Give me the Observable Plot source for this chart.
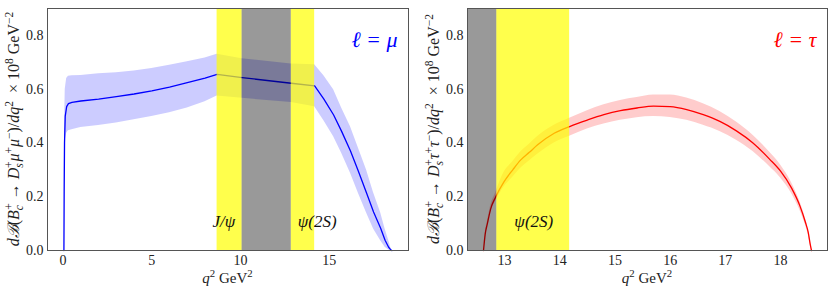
<!DOCTYPE html>
<html><head><meta charset="utf-8">
<script src="https://cdn.jsdelivr.net/npm/d3@7"></script>
<script src="https://cdn.jsdelivr.net/npm/@observablehq/plot@0.6"></script>
<style>
body{margin:0;background:#fff;}
#wrap{display:flex;width:830px;height:287px;overflow:hidden;}
#wrap svg{display:block;}
#wrap svg, #wrap svg text{font-family:"Liberation Serif","DejaVu Serif",serif !important;}
</style></head><body><div id="wrap"></div>
<script>
// ---------- data ----------
const muQ2      = [0.045,0.06,0.08,0.12,0.2,0.3,0.5,1.0,2.0,3.0,4.0,5.0,6.0,7.0,8.0,8.68,10.09,12.86,14.18,14.7,15.25,15.7,16.2,16.65,17.1,17.5,17.9,18.15,18.35,18.45,18.53];
const muCentral = [0,0.22,0.40,0.50,0.535,0.546,0.551,0.556,0.563,0.572,0.582,0.594,0.608,0.624,0.641,0.655,0.643,0.622,0.612,0.563,0.504,0.443,0.370,0.294,0.215,0.143,0.083,0.038,0.012,0.004,0];
const muLow     = [0,0.18,0.33,0.41,0.436,0.445,0.449,0.457,0.465,0.474,0.486,0.498,0.512,0.530,0.553,0.575,0.566,0.550,0.535,0.483,0.423,0.362,0.287,0.212,0.140,0.080,0.036,0.012,0.002,0,0];
const muHigh    = [0,0.26,0.47,0.60,0.640,0.648,0.650,0.651,0.657,0.661,0.668,0.677,0.689,0.702,0.716,0.730,0.713,0.694,0.691,0.650,0.598,0.530,0.460,0.380,0.300,0.215,0.140,0.080,0.038,0.015,0];

const tauQ2      = [12.62,12.65,12.69,12.75,12.84,12.99,13.15,13.29,13.45,13.6,13.9,14.18,14.5,14.8,15.1,15.4,15.7,16.0,16.3,16.6,16.9,17.2,17.5,17.8,18.0,18.2,18.35,18.45,18.5,18.54,18.56];
const tauCentral = [0,0.06,0.10,0.155,0.199,0.255,0.300,0.336,0.365,0.393,0.436,0.461,0.485,0.505,0.520,0.530,0.537,0.535,0.524,0.505,0.480,0.445,0.400,0.340,0.295,0.232,0.166,0.105,0.068,0.02,0];
const tauLow     = [0,0.055,0.092,0.143,0.183,0.235,0.272,0.305,0.333,0.358,0.400,0.425,0.452,0.470,0.484,0.494,0.498,0.495,0.484,0.466,0.443,0.410,0.368,0.312,0.270,0.212,0.150,0.095,0.06,0.018,0];
const tauHigh    = [0,0.065,0.108,0.167,0.215,0.290,0.330,0.365,0.395,0.424,0.466,0.492,0.520,0.542,0.558,0.569,0.578,0.578,0.567,0.546,0.517,0.478,0.429,0.366,0.318,0.252,0.182,0.120,0.078,0.035,0];

const vetoYellowFrom = [8.68, 12.86];
const vetoYellowTo   = [10.09, 14.18];
const vetoGreyFrom   = [10.09];
const vetoGreyTo     = [12.86];

const yTicks    = [0,0.2,0.4,0.6,0.8];
const muXTicks  = [0,5,10,15];
const tauXTicks = [13,14,15,16,17,18];

const muLabels  = ["J/ψ","ψ(2S)"];
const muLabelQ2 = [9.06, 14.32];
const tauLabels = ["ψ(2S)"];
const tauLabelQ2= [13.53];
const labelValue = 0.108;

const FONT = "'Liberation Serif', 'DejaVu Serif', serif";

// ---------- helpers ----------
const zipRows = (x, c, lo, hi) => x.map((q, i) => ({q, c: c[i], lo: lo[i], hi: hi[i]}));
const yellowRows = vetoYellowFrom.map((a, i) => ({a, b: vetoYellowTo[i]}));
const greyRows = vetoGreyFrom.map((a, i) => ({a, b: vetoGreyTo[i]}));

function richText(sel, parts, base) {
  let shift = 0;
  for (const p of parts) {
    const small = p.s === "sub" || p.s === "sup" || p.s === "supb";
    const target = p.s === "sub" ? 4 : (p.s === "sup" || p.s === "supb") ? -6 : 0;
    const t = sel.append("tspan").text(p.t).attr("dy", target - shift);
    shift = target;
    if (small) t.attr("font-size", base * 0.72);
    if (p.i) t.attr("font-style", "italic");
    if (p.s === "supb") t.attr("dx", -base * 0.3);
  }
}

function panel({rows, domain, ticks, color, marginLeft, marginRight, lepton, labels, labelQ2, curve}) {
  const labelRows = labels.map((t, i) => ({t, q: labelQ2[i], v: labelValue}));
  const svg = Plot.plot({
    width: 415, height: 287,
    marginLeft, marginRight, marginTop: 8, marginBottom: 37,
    style: {fontFamily: FONT, fontSize: "14px", color: "#222", background: "#fff"},
    x: {domain, ticks},
    y: {domain: [0, 0.9]},
    marks: [
      Plot.areaY(rows, {x: "q", y1: "lo", y2: "hi", fill: color, fillOpacity: 0.2, curve}),
      Plot.line(rows, {x: "q", y: "c", stroke: color, strokeWidth: 1.3, curve}),
      Plot.rect(yellowRows, {x1: "a", x2: "b", fill: "#ffff00", fillOpacity: 0.7, clip: true}),
      Plot.rect(greyRows, {x1: "a", x2: "b", fill: "#000", fillOpacity: 0.4, clip: true}),
      Plot.text(labelRows, {x: "q", y: "v", text: "t", fontSize: 17, fontStyle: "italic", fill: "#111"}),
      Plot.text([`ℓ = ${lepton}`], {frameAnchor: "top-right", dx: -11, dy: 23, textAnchor: "end", fontSize: 22, fontStyle: "italic", fill: color}),
      Plot.axisX({ticks, tickFormat: d3.format("d"), tickSize: 0, tickPadding: 5, label: null, fontSize: 14}),
      Plot.axisY({ticks: yTicks, tickFormat: d3.format(".1f"), tickSize: 0, tickPadding: 4, label: null, fontSize: 14}),
      Plot.frame({stroke: "#555", strokeWidth: 1})
    ]
  });
  const s = d3.select(svg);
  svg.setAttribute("font-family", FONT);
  const fr = {l: marginLeft, r: 415 - marginRight, t: 8, b: 250};
  // x label
  const xl = s.append("text").attr("x", (fr.l + fr.r) / 2).attr("y", 283)
    .attr("text-anchor", "middle").attr("font-size", 15).attr("fill", "#222");
  richText(xl, [{t: "q", i: 1}, {t: "2", s: "sup"}, {t: " GeV"}, {t: "2", s: "sup"}], 15);
  // y label
  const yl = s.append("text").attr("transform", `translate(${marginLeft - 28},${(fr.t + fr.b) / 2}) rotate(-90)`)
    .attr("text-anchor", "middle").attr("font-size", 16).attr("fill", "#222");
  richText(yl, [
    {t: "dℬ", i: 1}, {t: "("}, {t: "B", i: 1}, {t: "c", i: 1, s: "sub"}, {t: "+", s: "supb"},
    {t: " → "}, {t: "D", i: 1}, {t: "s", i: 1, s: "sub"}, {t: "+", s: "supb"},
    {t: lepton, i: 1}, {t: "+", s: "sup"}, {t: lepton, i: 1}, {t: "−", s: "sup"},
    {t: ")/"}, {t: "dq", i: 1}, {t: "2", s: "sup"}, {t: "  × 10"}, {t: "8", s: "sup"},
    {t: " GeV"}, {t: "−2", s: "sup"}
  ], 16);
  s.selectAll("text").style("font-family", FONT);
  return svg;
}

const wrap = document.getElementById("wrap");
wrap.appendChild(panel({
  rows: zipRows(muQ2, muCentral, muLow, muHigh), domain: [-0.88, 19.47], ticks: muXTicks,
  color: "#0000ff", marginLeft: 47, marginRight: 7, lepton: "μ",
  labels: muLabels, labelQ2: muLabelQ2, curve: "linear"
}));
wrap.appendChild(panel({
  rows: zipRows(tauQ2, tauCentral, tauLow, tauHigh), domain: [12.33, 18.85], ticks: tauXTicks,
  color: "#ff0000", marginLeft: 52, marginRight: 3, lepton: "τ",
  labels: tauLabels, labelQ2: tauLabelQ2, curve: "monotone-x"
}));
</script>
</body></html>
